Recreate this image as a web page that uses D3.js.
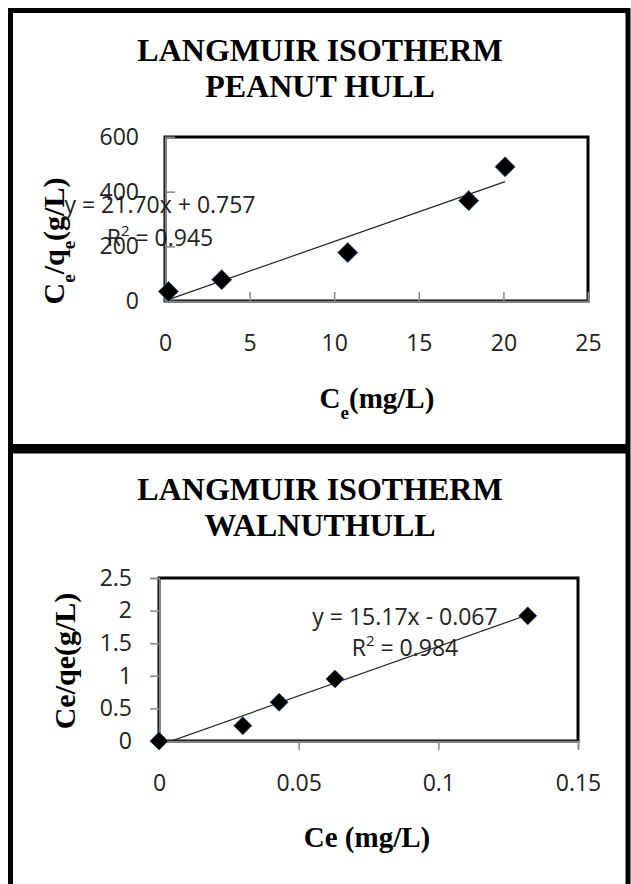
<!DOCTYPE html>
<html>
<head>
<meta charset="utf-8">
<script src="https://cdn.jsdelivr.net/npm/d3@7"></script>
<style>
  body { margin: 0; background: #fff; }
  svg { display: block; }
  .tick text { font-family: "Open Sans", sans-serif; fill: #222; }
</style>
</head>
<body>
<svg width="631" height="884"></svg>
<script>
// peanut hull
const peanutCe = [0.2, 3.35, 10.8, 17.95, 20.1];
const peanutRatio = [35, 78, 177, 367, 491];
const peanutXTicks = [0, 5, 10, 15, 20, 25];
const peanutYTicks = [0, 200, 400, 600];
const peanutFit = {slope: 21.70, intercept: 0.757};

// walnut hull
const walnutCe = [0, 0.030, 0.043, 0.063, 0.132];
const walnutRatio = [0, 0.235, 0.594, 0.951, 1.92];
const walnutXTicks = [0, 0.05, 0.1, 0.15];
const walnutYTicks = [0, 0.5, 1, 1.5, 2, 2.5];
const walnutFit = {slope: 15.17, intercept: -0.067};

const svg = d3.select('svg');

// outer frames
svg.append('rect')
    .attr('x', 10.5).attr('y', 10.5)
    .attr('width', 617.5).attr('height', 436)
    .attr('fill', 'none').attr('stroke', '#000').attr('stroke-width', 5);
svg.append('rect')
    .attr('x', 10.5).attr('y', 451)
    .attr('width', 617.5).attr('height', 450)
    .attr('fill', 'none').attr('stroke', '#000').attr('stroke-width', 5);

function drawPanel(cfg) {
    const g = svg.append('g');

    const x = d3.scaleLinear().domain(cfg.xDomain).range([cfg.box.l, cfg.box.r]);
    const y = d3.scaleLinear().domain(cfg.yDomain).range([cfg.box.b, cfg.box.t]);

    // title
    const title = g.append('text')
        .attr('x', 320)
        .attr('text-anchor', 'middle')
        .style('font-family', '"Liberation Serif", "Times New Roman", serif')
        .style('font-weight', 'bold')
        .style('font-size', '32px');
    cfg.title.forEach((t, i) => {
        title.append('tspan').attr('x', 320).attr('y', cfg.titleY + i * 36).text(t);
    });

    // plot box
    g.append('rect')
        .attr('x', cfg.box.l).attr('y', cfg.box.t)
        .attr('width', cfg.box.r - cfg.box.l)
        .attr('height', cfg.box.b - cfg.box.t)
        .attr('fill', 'none').attr('stroke', '#000').attr('stroke-width', 3);

    // axes
    const tickIn = cfg.ticksInside;
    const xAxis = g.append('g')
        .attr('transform', `translate(0, ${cfg.box.b})`)
        .call(d3.axisBottom(x).tickValues(cfg.xTicks)
            .tickSize(tickIn ? -9 : 9).tickPadding(tickIn ? 38 : 29)
            .tickFormat(d3.format('')));
    const yAxis = g.append('g')
        .attr('transform', `translate(${cfg.box.l}, 0)`)
        .call(d3.axisLeft(y).tickValues(cfg.yTicks)
            .tickSize(tickIn ? -10 : 9).tickPadding(tickIn ? 26 : 27)
            .tickFormat(d3.format('')));
    [xAxis, yAxis].forEach(a => {
        a.select('.domain').attr('stroke', '#868686').attr('stroke-width', 1.5);
        a.selectAll('.tick line').attr('stroke', '#868686').attr('stroke-width', 1.5);
        a.selectAll('.tick text').style('font-size', '23px');
    });
    yAxis.selectAll('.tick text').attr('x', tickIn ? -26 : -27);
    xAxis.selectAll('.tick text').attr('dy', '0.35em').attr('y', 42);

    // axis titles
    const xt = g.append('text')
        .attr('x', cfg.xTitlePos[0]).attr('y', cfg.xTitlePos[1])
        .attr('text-anchor', 'middle')
        .style('font-family', '"Liberation Serif", "Times New Roman", serif')
        .style('font-weight', 'bold').style('font-size', '29px');
    cfg.xTitle.forEach(p => {
        const s = xt.append('tspan').text(p[0]);
        if (p[1]) s.attr('baseline-shift', 'sub').style('font-size', '19px');
    });
    const yt = g.append('text')
        .attr('transform', `translate(${cfg.yTitlePos[0]}, ${cfg.yTitlePos[1]}) rotate(-90)`)
        .attr('text-anchor', 'middle')
        .attr('dy', '0.35em')
        .style('font-family', '"Liberation Serif", "Times New Roman", serif')
        .style('font-weight', 'bold').style('font-size', '30px');
    cfg.yTitle.forEach(p => {
        const s = yt.append('tspan').text(p[0]);
        if (p[1]) s.attr('baseline-shift', 'sub').style('font-size', '19px');
    });

    // trendline clipped to plot area
    const clipId = 'clip' + cfg.id;
    g.append('clipPath').attr('id', clipId)
        .append('rect')
        .attr('x', cfg.box.l).attr('y', cfg.box.t)
        .attr('width', cfg.box.r - cfg.box.l).attr('height', cfg.box.b - cfg.box.t);
    const xExt = d3.extent(cfg.xs);
    const fit = v => cfg.fit.slope * v + cfg.fit.intercept;
    g.append('path')
        .datum(xExt.map(v => [v, fit(v)]))
        .attr('clip-path', `url(#${clipId})`)
        .attr('fill', 'none').attr('stroke', '#222').attr('stroke-width', 1.2)
        .attr('d', d3.line().x(d => x(d[0])).y(d => y(d[1])));

    // points
    const pts = cfg.xs.map((v, i) => [v, cfg.ys[i]]);
    g.selectAll('.pt')
        .data(pts)
        .enter()
        .append('path')
            .attr('class', 'pt')
            .attr('d', d3.symbol(d3.symbolSquare, cfg.markerSize))
            .attr('transform', d => `translate(${x(d[0])}, ${y(d[1])}) rotate(45)`)
            .attr('fill', '#000')
            .attr('stroke', '#2f4f7f').attr('stroke-width', 0.8);

    // equation label
    const eq = g.append('text')
        .attr('text-anchor', 'middle')
        .style('font-family', '"Open Sans", sans-serif')
        .style('font-size', '23px')
        .attr('fill', '#222');
    eq.append('tspan').attr('x', cfg.eqPos[0]).attr('y', cfg.eqPos[1])
        .text(`y = ${cfg.fit.slope.toFixed(2)}x ${cfg.fit.intercept < 0 ? '-' : '+'} ${Math.abs(cfg.fit.intercept).toFixed(3)}`);
    const r2 = eq.append('tspan').attr('x', cfg.eqPos[0]).attr('y', cfg.eqPos[1] + cfg.eqGap);
    r2.append('tspan').text('R');
    r2.append('tspan').attr('baseline-shift', 'super').style('font-size', '15px').text('2');
    r2.append('tspan').text(' = ' + cfg.r2);
}

drawPanel({
    id: 'peanut',
    title: ['LANGMUIR ISOTHERM', 'PEANUT HULL'],
    titleY: 61,
    box: {l: 165, r: 588, t: 137, b: 301},
    xDomain: [0, 25], yDomain: [0, 600],
    xTicks: peanutXTicks, yTicks: peanutYTicks,
    ticksInside: true,
    xs: peanutCe, ys: peanutRatio,
    fit: peanutFit, r2: '0.945',
    eqPos: [160, 213], eqGap: 33,
    markerSize: 200,
    xTitle: [['C'], ['e', true], ['(mg/L)']],
    xTitlePos: [377, 408],
    yTitle: [['C'], ['e', true], ['/q'], ['e', true], ['(g/L)']],
    yTitlePos: [53, 241]
});

drawPanel({
    id: 'walnut',
    title: ['LANGMUIR ISOTHERM', 'WALNUTHULL'],
    titleY: 500,
    box: {l: 159, r: 578, t: 578, b: 741},
    xDomain: [0, 0.15], yDomain: [0, 2.5],
    xTicks: walnutXTicks, yTicks: walnutYTicks,
    ticksInside: false,
    xs: walnutCe, ys: walnutRatio,
    fit: walnutFit, r2: '0.984',
    eqPos: [405, 625], eqGap: 31,
    markerSize: 162,
    xTitle: [['Ce (mg/L)']],
    xTitlePos: [367, 847],
    yTitle: [['Ce/qe(g/L)']],
    yTitlePos: [64, 661]
});
</script>
</body>
</html>
